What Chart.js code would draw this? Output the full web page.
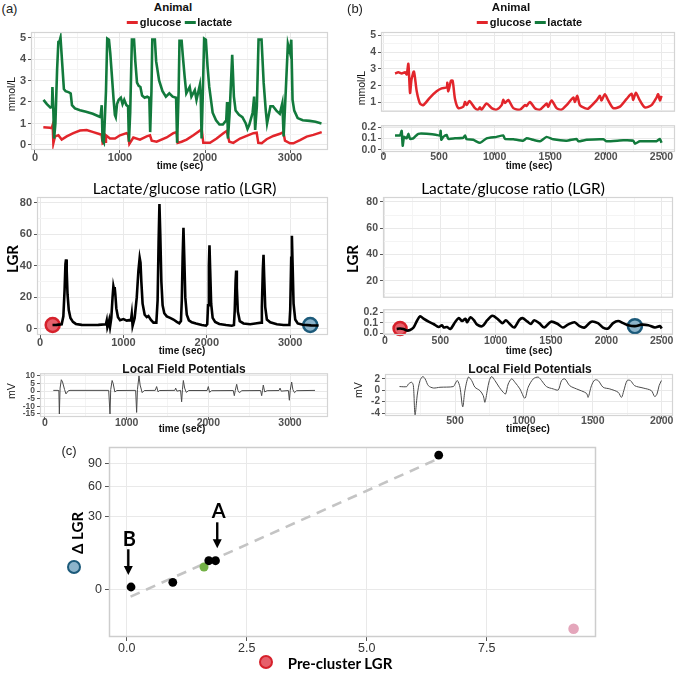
<!DOCTYPE html>
<html>
<head>
<meta charset="utf-8">
<script src="https://cdn.jsdelivr.net/npm/chart.js"></script>
<style>
  html, body { margin: 0; padding: 0; background: #fff; }
  #page { position: relative; width: 679px; height: 673px; overflow: hidden; font-family: 'Liberation Sans', Arial, sans-serif; color: #111; }
  .t { position: absolute; white-space: nowrap; transform: translate(-50%, -50%); line-height: 1; }
  canvas { position: absolute; }
</style>
</head>
<body>
<div id="page"></div>
<script>
// ---- data ----
// panel (a): time (sec), mmol/L
const glucoseA = [[98,0.82],[176,0.8],[196,0.78],[208,0.93],[216,0.08],[235,0.4],[275,0.45],[314,0.25],[373,0.4],[451,0.55],[529,0.67],[608,0.7],[686,0.6],[765,0.5],[784,0.47],[796,0.08],[824,0.15],[835,0.45],[882,0.3],[941,0.3],[1000,0.45],[1078,0.55],[1095,0.5],[1110,0.05],[1157,0.35],[1235,0.25],[1314,0.4],[1353,0.45],[1373,0.2],[1431,0.15],[1549,0.35],[1627,0.55],[1667,0.6],[1678,0.1],[1725,0.15],[1784,0.25],[1863,0.45],[1941,0.67],[1961,0.75],[1980,0.1],[2059,0.1],[2137,0.3],[2216,0.55],[2255,0.65],[2286,0.15],[2333,0.1],[2412,0.3],[2490,0.42],[2569,0.55],[2608,0.57],[2627,0.1],[2667,0.08],[2725,0.27],[2804,0.42],[2882,0.52],[2922,0.6],[2941,0.2],[3000,0.08],[3039,0.08],[3118,0.23],[3196,0.39],[3275,0.47],[3373,0.6]];
const lactateA = [[100,2.1],[140,1.9],[180,1.75],[200,1.78],[205,2.7],[215,1.7],[225,0.3],[240,1.0],[260,3.5],[275,4.8],[290,4.85],[300,5.0],[320,3.8],[340,2.6],[360,2.5],[400,2.45],[420,2.4],[435,1.85],[470,1.7],[530,1.62],[600,1.55],[680,1.45],[740,1.35],[770,1.3],[785,1.85],[795,0.2],[810,0.1],[835,2.5],[850,4.95],[870,4.9],[885,4.3],[905,3.2],[925,2.1],[940,1.4],[950,1.3],[965,1.9],[985,2.1],[1010,2.2],[1030,1.9],[1050,2.1],[1075,1.85],[1095,1.8],[1105,0.15],[1120,1.5],[1140,4.9],[1165,4.9],[1180,3.9],[1200,2.9],[1220,2.75],[1240,2.7],[1260,2.3],[1290,2.2],[1320,2.25],[1345,2.2],[1355,0.6],[1370,2.5],[1380,4.9],[1410,4.9],[1425,3.9],[1460,3.0],[1500,2.5],[1540,2.25],[1580,2.4],[1620,2.25],[1660,2.2],[1672,0.1],[1690,2.5],[1700,4.85],[1725,4.85],[1740,4.1],[1760,3.2],[1780,2.4],[1820,2.7],[1840,2.25],[1880,2.55],[1900,2.1],[1940,2.8],[1950,2.2],[1960,0.3],[1975,2.5],[1990,4.95],[2010,4.9],[2030,3.65],[2050,2.7],[2090,1.5],[2130,1.15],[2170,0.95],[2210,0.95],[2250,1.15],[2260,2.0],[2270,0.3],[2290,1.5],[2320,4.2],[2340,2.25],[2360,1.6],[2400,1.4],[2440,1.3],[2480,1.0],[2500,0.75],[2520,0.93],[2560,1.5],[2578,2.25],[2590,0.7],[2610,1.8],[2630,4.9],[2665,4.9],[2690,2.9],[2715,1.6],[2730,1.0],[2750,1.4],[2770,1.8],[2800,1.8],[2840,1.6],[2880,1.45],[2910,1.95],[2925,0.4],[2950,2.5],[2975,4.7],[3000,4.3],[3015,4.9],[3030,2.1],[3050,1.6],[3090,1.25],[3150,1.15],[3230,1.12],[3300,1.08],[3370,1.0]];
const lgrA = [[150,2.5],[200,2.6],[260,3],[280,8],[295,25],[305,41],[312,44],[320,37],[330,22],[345,12],[365,7],[395,4.5],[430,3.2],[500,2.6],[600,2.5],[700,2.6],[790,3],[800,5.3],[808,1],[820,3],[830,5.5],[840,1.5],[855,7],[870,20],[880,27],[888,25],[895,26.5],[903,22],[915,13],[935,7.5],[960,5.6],[1000,6.3],[1040,5.3],[1070,5.6],[1090,5.5],[1100,9.5],[1110,2],[1135,7],[1160,20],[1180,37],[1195,45],[1205,42],[1215,30],[1230,16],[1255,9],[1280,7.5],[1300,8.2],[1330,5.7],[1360,4],[1395,4],[1410,18],[1422,55],[1432,79],[1442,60],[1455,30],[1470,15],[1490,10],[1520,8],[1560,7],[1600,6],[1640,4.5],[1670,3.6],[1690,5],[1700,18],[1710,45],[1720,64],[1730,45],[1742,20],[1760,9],[1785,5.5],[1820,4.2],[1870,3.4],[1940,2.5],[1990,2.1],[2005,3],[2015,15],[2025,40],[2032,53],[2040,38],[2052,16],[2070,7],[2100,4.5],[2150,3.2],[2230,2.5],[2300,2.1],[2325,2.5],[2335,12],[2345,30],[2352,37],[2360,26],[2372,11],[2395,5],[2440,3.5],[2520,3],[2600,3.6],[2650,4],[2660,14],[2672,38],[2680,47],[2688,33],[2700,14],[2720,6],[2760,4.2],[2840,3],[2920,2.5],[2990,2.5],[3000,12],[3012,45],[3020,59],[3028,42],[3040,16],[3060,6],[3090,3.5],[3150,2.7],[3250,2.3],[3340,2.2]];
const lfpA = [[102,0.5],[160,0.5],[170,0.3],[176,-15],[185,2],[200,7.5],[215,6],[240,1],[257,-1.8],[285,0.2],[306,0.5],[780,0.5],[796,-15],[805,1],[822,7],[835,5],[855,-0.5],[880,0.4],[1110,0.5],[1122,-14],[1132,1],[1151,10],[1165,4],[1190,-1],[1215,0.4],[1350,0.5],[1367,3],[1385,-0.5],[1400,0.4],[1590,0.5],[1600,2],[1615,0],[1660,0.5],[1673,-7],[1683,1],[1694,7],[1710,2],[1730,-0.8],[1760,0.4],[1985,0.4],[2000,3],[2015,-0.8],[2040,0.3],[2305,0.4],[2318,-3],[2330,0.5],[2347,4.5],[2362,0.5],[2380,-1],[2410,0.3],[2640,0.4],[2653,-3],[2663,0.5],[2673,4],[2690,-0.5],[2720,0.3],[2865,0.4],[2878,2],[2892,0],[2980,0.4],[2992,-6],[3002,0.5],[3020,6],[3035,1],[3055,-1],[3080,0.3],[3306,0.5]];
const startMarkA = [[152, 2.5]];
const endMarkA = [[3240, 2.5]];

// panel (b)
const glucoseB = [[105,2.73],[135,2.8],[165,2.73],[195,2.8],[210,2.67],[225,3.3],[240,1.58],[254,2.4],[275,2.85],[300,1.67],[329,0.95],[359,0.85],[419,1.3],[479,1.67],[524,1.85],[569,1.9],[575,2.18],[584,1.67],[608,2.3],[623,2.3],[644,1.22],[674,0.67],[719,0.76],[734,1.04],[749,0.85],[772,1.09],[793,0.95],[823,0.67],[853,0.58],[868,0.73],[883,0.58],[928,0.95],[973,0.67],[1018,0.58],[1063,0.85],[1078,1.16],[1093,0.98],[1123,1.16],[1168,0.67],[1228,0.58],[1273,0.85],[1287,0.8],[1317,1.04],[1362,0.67],[1407,0.58],[1452,0.85],[1467,0.95],[1482,0.76],[1512,1.13],[1557,0.67],[1602,0.58],[1647,0.85],[1707,1.3],[1722,1.04],[1743,1.4],[1766,0.85],[1811,0.67],[1841,0.64],[1916,1.13],[1946,1.4],[1961,1.13],[1991,1.5],[2021,1.13],[2066,0.67],[2126,0.76],[2186,1.22],[2231,1.53],[2246,1.16],[2269,1.58],[2305,1.13],[2350,0.71],[2410,0.85],[2455,1.3],[2470,1.5],[2485,1.13],[2500,1.4]];
const lactateB = [[105,0.126],[150,0.126],[165,0.166],[174,0.034],[186,0.113],[210,0.1],[225,0.14],[240,0.095],[269,0.1],[314,0.14],[389,0.14],[479,0.13],[509,0.126],[515,0.166],[521,0.087],[539,0.113],[569,0.13],[584,0.095],[644,0.1],[719,0.105],[734,0.126],[749,0.092],[808,0.087],[868,0.06],[928,0.1],[1018,0.113],[1078,0.126],[1093,0.095],[1168,0.092],[1257,0.079],[1287,0.1],[1347,0.087],[1407,0.074],[1467,0.113],[1527,0.092],[1647,0.079],[1737,0.095],[1752,0.074],[1826,0.087],[1976,0.092],[2006,0.074],[2156,0.082],[2246,0.079],[2261,0.053],[2305,0.074],[2455,0.074],[2485,0.095],[2500,0.06]];
const lgrB = [[106,0.042],[136,0.047],[167,0.042],[197,0.028],[227,0.033],[258,0.056],[288,0.117],[318,0.161],[348,0.139],[394,0.111],[439,0.089],[485,0.061],[515,0.078],[530,0.056],[561,0.061],[591,0.042],[636,0.111],[667,0.144],[697,0.117],[727,0.139],[742,0.106],[773,0.153],[803,0.125],[833,0.083],[879,0.069],[924,0.125],[970,0.167],[1015,0.139],[1061,0.097],[1091,0.125],[1121,0.097],[1167,0.056],[1212,0.125],[1242,0.144],[1288,0.111],[1318,0.089],[1348,0.125],[1394,0.097],[1439,0.056],[1500,0.111],[1561,0.089],[1606,0.056],[1652,0.083],[1712,0.106],[1758,0.069],[1803,0.056],[1864,0.111],[1924,0.097],[1970,0.056],[2015,0.047],[2061,0.097],[2106,0.117],[2152,0.097],[2197,0.078],[2258,0.069],[2318,0.083],[2379,0.078],[2439,0.056],[2485,0.069],[2500,0.047]];
const lfpB = [[97,0.65],[150,0.65],[162,1.1],[186,1.4],[198,0.8],[210,-4.3],[227,-0.65],[246,1.7],[266,2.4],[283,2.0],[307,0.8],[343,0.4],[391,0.53],[488,0.65],[500,1.1],[517,1.7],[536,0.53],[556,-2.9],[572,-0.06],[597,2.3],[621,1.7],[645,0.53],[681,-0.06],[705,-0.94],[717,-2.1],[734,-0.06],[749,1.7],[766,2.4],[790,1.7],[821,0.53],[850,-0.35],[867,-0.65],[886,1.1],[911,2.0],[935,1.4],[971,0.24],[1007,-1.4],[1031,0.53],[1068,2.0],[1104,2.3],[1128,1.7],[1164,0.65],[1213,0.24],[1249,0.06],[1273,1.7],[1297,2.0],[1333,0.8],[1382,0.24],[1454,-0.53],[1466,-1.24],[1490,0.8],[1514,1.8],[1539,1.7],[1575,0.53],[1623,0.24],[1684,-0.35],[1708,-1.24],[1725,-0.06],[1749,1.7],[1773,1.7],[1804,0.8],[1865,0.4],[1925,-0.06],[1949,-1.1],[1966,-0.65],[1981,0.8],[1998,1.7]];
const startMarkB = [[136, 0.047]];
const endMarkB = [[2258, 0.069]];

// panel (c): pre-cluster LGR vs delta LGR
const clusterBlack = [[0.09,0.05],[0.96,0.33],[1.71,4.8],[1.85,4.8],[6.5,102]];
const clusterGreen = [[1.61,2.97]];
const clusterPink = [[9.31,-8.4]];
const fitLine = [[0.08,-0.25],[6.5,97]];
const arrowX = [0.033, 1.886];
const arrowFrom = [9.3, 25.7];
const arrowTo = [1.26, 9.76];
const arrowText = ['B', 'A'];
const arrowTextX = [0.054, 1.915];
const arrowTextY = [14.4, 34.4];

// ticks
const secTicksA = [0, 1000, 2000, 3000];
const secTicksB = [0, 500, 1000, 1500, 2000, 2500];
const secTicksLfpB = [500, 1000, 1500, 2000];
const mmolTicks = [0, 1, 2, 3, 4, 5];
const mmolTicksB = [1, 2, 3, 4, 5];
const smallTicks = [0, 0.1, 0.2];
const lgrTicks = [0, 20, 40, 60, 80];
const lgrTicksB = [20, 40, 60, 80];
const mvTicksA = [-15, -10, -5, 0, 5, 10];
const mvTicksB = [-4, -2, 0, 2];
const preTicks = [0, 2.5, 5, 7.5];
const deltaTicks = [0, 30, 60, 90];

// ---- drawing ----
const page = document.getElementById('page');
const RED = '#e2252b', GREEN = '#127a3c', LFPC = '#4a4a4a';
Chart.defaults.font.family = "'Liberation Sans', Arial, sans-serif";
Chart.defaults.color = '#4d4d4d';

// signed square root axis, used by panel (c)
function ssq(v) { return Math.sign(v) * Math.sqrt(Math.abs(v)); }
class SqrtScale extends Chart.LinearScale {
  configure() {
    super.configure();
    this._s0 = ssq(this.min);
    this._s1 = ssq(this.max);
  }
  getPixelForValue(v) {
    if (v === null || v === undefined) return NaN;
    return this.getPixelForDecimal((ssq(v) - this._s0) / (this._s1 - this._s0));
  }
  getValueForPixel(p) {
    const s = this._s0 + this.getDecimalForPixel(p) * (this._s1 - this._s0);
    return Math.sign(s) * s * s;
  }
}
SqrtScale.id = 'sqrt';
SqrtScale.defaults = Chart.LinearScale.defaults;
Chart.register(SqrtScale);

const frame = {
  id: 'frame',
  afterDatasetsDraw(c, args, o) {
    const a = c.chartArea, ctx = c.ctx;
    ctx.save();
    ctx.strokeStyle = o.color || '#d4d4d4';
    ctx.lineWidth = o.width || 1.2;
    ctx.strokeRect(a.left + 0.5, a.top + 0.5, a.width - 1, a.height - 1);
    ctx.restore();
  }
};

function minorOf(major, min, max) {
  const out = [];
  for (let i = 0; i < major.length - 1; i++) out.push((major[i] + major[i + 1]) / 2);
  const st = major[1] - major[0];
  if (major[0] - st / 2 >= min) out.push(major[0] - st / 2);
  if (major[major.length - 1] + st / 2 <= max) out.push(major[major.length - 1] + st / 2);
  return out;
}

function axis(min, max, major, o = {}) {
  const all = major.concat(o.noMinor ? [] : minorOf(major, min, max));
  const isMajor = v => major.some(m => Math.abs(m - v) < 1e-9);
  return {
    type: o.type || 'linear', min, max,
    afterBuildTicks: s => { s.ticks = all.map(v => ({ value: v })); },
    grid: {
      color: c => (c.tick && isMajor(c.tick.value)) ? '#e9e9e9' : '#f4f4f4',
      lineWidth: 1,
      drawTicks: !o.hideTicks,
      tickLength: o.tickLen || 3,
      tickColor: c => (c.tick && isMajor(c.tick.value)) ? '#555' : 'rgba(0,0,0,0)'
    },
    border: { display: false },
    ticks: {
      display: !o.hideLabels,
      autoSkip: false, maxRotation: 0, minRotation: 0,
      padding: o.pad === undefined ? 2 : o.pad,
      color: o.color || '#505050',
      font: { size: o.size || 11, lineHeight: 1, weight: o.weight || 'bold' },
      callback: v => isMajor(v) ? (o.fmt ? o.fmt(v) : String(v)) : ''
    }
  };
}

function pts(pairs) { return pairs.map(p => ({ x: p[0], y: p[1] })); }
function line(pairs, color, width, tension) {
  return { data: pts(pairs), showLine: true, borderColor: color, borderWidth: width, pointRadius: 0, tension: tension || 0, fill: false };
}
function dots(pairs, fill, stroke, r, bw) {
  return { data: pts(pairs), showLine: false, pointRadius: r, pointHoverRadius: r, backgroundColor: fill, borderColor: stroke, borderWidth: bw || 0, clip: false };
}

// box = plot area on the page, pad = [left, top, right, bottom] space for axes
function makeChart(box, pad, datasets, xs, ys, extra) {
  const w = box.r - box.l + pad[0] + pad[2];
  const h = box.b - box.t + pad[1] + pad[3];
  const cv = document.createElement('canvas');
  cv.width = w; cv.height = h;
  cv.style.left = (box.l - pad[0]) + 'px';
  cv.style.top = (box.t - pad[1]) + 'px';
  cv.style.width = w + 'px'; cv.style.height = h + 'px';
  page.appendChild(cv);
  xs.position = 'bottom'; ys.position = 'left';
  xs.afterFit = s => { s.height = pad[3]; };
  ys.afterFit = s => { s.width = pad[0]; };
  return new Chart(cv, {
    type: 'scatter',
    data: { datasets },
    options: {
      responsive: false, animation: false, devicePixelRatio: 1, events: [],
      layout: { autoPadding: false, padding: { left: 0, top: pad[1], right: pad[2], bottom: 0 } },
      plugins: { legend: { display: false }, tooltip: { enabled: false }, frame: (extra && extra.frame) || {} },
      scales: { x: xs, y: ys }
    },
    plugins: [frame].concat((extra && extra.plugins) || [])
  });
}

function txt(s, x, y, css, rot) {
  const d = document.createElement('div');
  d.className = 't';
  d.textContent = s;
  d.style.cssText = `left:${x}px;top:${y}px;${css || ''}`;
  if (rot) d.style.transform = 'translate(-50%,-50%) rotate(-90deg)';
  page.appendChild(d);
  return d;
}
function legend(cx, cy) {
  const d = document.createElement('div');
  d.className = 't';
  d.style.cssText = `left:${cx}px;top:${cy}px;display:flex;align-items:center;font:bold 11px 'Liberation Sans',Arial,sans-serif;`;
  [[RED, 'glucose'], [GREEN, 'lactate']].forEach(([c, s]) => {
    const sw = document.createElement('span');
    sw.style.cssText = `display:inline-block;width:11px;height:3px;background:${c};margin-right:2px;`;
    const tx = document.createElement('span');
    tx.textContent = s;
    tx.style.marginRight = '3px';
    d.appendChild(sw); d.appendChild(tx);
  });
  page.appendChild(d);
}
function circle(cx, cy, d, fill, stroke) {
  const e = document.createElement('div');
  e.style.cssText = `position:absolute;left:${cx - d / 2}px;top:${cy - d / 2}px;width:${d - 5}px;height:${d - 5}px;border-radius:50%;background:${fill};border:2.5px solid ${stroke};`;
  page.appendChild(e);
}

const f1 = v => v.toFixed(1);
const RFILL = '#e6606b', RSTROKE = '#d6212b', BFILL = '#8cb4cb', BSTROKE = '#1c5a7a';

// (a) glucose / lactate
makeChart({ l: 31, t: 32, r: 328, b: 150 }, [31, 8, 12, 14],
  [line(lactateA, GREEN, 2.6), line(glucoseA, RED, 2.5)],
  axis(-47, 3447, secTicksA, { pad: -1 }),
  axis(-0.233, 5.256, mmolTicks));
// (a) LGR
makeChart({ l: 37, t: 197, r: 328, b: 335 }, [37, 8, 12, 14],
  [line(lgrA, '#000', 2.6), dots(startMarkA, RFILL, RSTROKE, 7, 2.5), dots(endMarkA, BFILL, BSTROKE, 7, 2.5)],
  axis(-36, 3453, secTicksA, { pad: -1 }),
  axis(-3.8, 83.5, lgrTicks));
// (a) LFP
makeChart({ l: 40, t: 373, r: 328, b: 417 }, [40, 6, 12, 12],
  [line(lfpA, LFPC, 1)],
  axis(-61, 3465, secTicksA, { pad: -2, size: 10.5 }),
  axis(-17, 11.76, mvTicksA, { size: 8.5, noMinor: true }));

// (b) glucose (upper facet) and lactate (lower facet)
makeChart({ l: 381, t: 32, r: 675, b: 119 }, [30, 8, 4, 0],
  [line(glucoseB, RED, 2.5, 0.25)],
  axis(-21, 2621, secTicksB, { hideLabels: true, hideTicks: true }),
  axis(0.455, 5.2, mmolTicksB, { size: 10.5 }));
makeChart({ l: 381, t: 122, r: 675, b: 152 }, [30, 4, 4, 14],
  [line(lactateB, GREEN, 2.5, 0.15)],
  axis(-21, 2621, secTicksB, { pad: -3, size: 10.5 }),
  axis(-0.021, 0.216, smallTicks, { fmt: f1, noMinor: true, size: 10.5 }));
// (b) LGR
makeChart({ l: 383, t: 197, r: 673, b: 305 }, [30, 8, 6, 0],
  [],
  axis(-18, 2602, secTicksB, { hideLabels: true, hideTicks: true }),
  axis(7, 83.75, lgrTicksB, { size: 10.5 }));
makeChart({ l: 383, t: 306, r: 673, b: 335 }, [30, 4, 6, 14],
  [line(lgrB, '#000', 2.6, 0.3), dots(startMarkB, RFILL, RSTROKE, 6.5, 2.5), dots(endMarkB, BFILL, BSTROKE, 7, 2.5)],
  axis(-18, 2602, secTicksB, { pad: -2, size: 10.5 }),
  axis(-0.014, 0.2275, smallTicks, { fmt: f1, noMinor: true, size: 10.5 }));
// (b) LFP
makeChart({ l: 385, t: 373, r: 673, b: 416 }, [30, 6, 6, 12],
  [line(lfpB, LFPC, 1, 0.3)],
  axis(-8, 2082, secTicksLfpB, { pad: -3, size: 10.5 }),
  axis(-4.5, 2.85, mvTicksB, { size: 10, noMinor: true }));

// (c) scatter
const arrows = {
  id: 'arrows',
  afterDatasetsDraw(c) {
    const xs = c.scales.x, ys = c.scales.y, ctx = c.ctx;
    ctx.save();
    ctx.strokeStyle = '#000'; ctx.fillStyle = '#000'; ctx.lineWidth = 2.4;
    arrowX.forEach((ax, i) => {
      const px = xs.getPixelForValue(ax);
      const y0 = ys.getPixelForValue(arrowFrom[i]);
      const y1 = ys.getPixelForValue(arrowTo[i]);
      ctx.beginPath(); ctx.moveTo(px, y0); ctx.lineTo(px, y1 - 6); ctx.stroke();
      ctx.beginPath(); ctx.moveTo(px - 4.5, y1 - 9); ctx.lineTo(px + 4.5, y1 - 9); ctx.lineTo(px, y1); ctx.closePath(); ctx.fill();
      ctx.font = "bold 20px Lato, 'Liberation Sans', sans-serif";
      ctx.textAlign = 'center'; ctx.textBaseline = 'middle';
      ctx.fillText(arrowText[i], xs.getPixelForValue(arrowTextX[i]), ys.getPixelForValue(arrowTextY[i]));
    });
    ctx.restore();
  }
};
const dash = line(fitLine, '#c4c4c4', 2.6);
dash.borderDash = [10, 7];
makeChart({ l: 109, t: 447, r: 596, b: 637 }, [40, 10, 20, 20],
  [dots(clusterBlack, '#000', '#000', 4.4), dots(clusterGreen, '#73b146', '#73b146', 4.5), dots(clusterPink, '#e4a6bb', '#e4a6bb', 5.3), dash],
  axis(-0.369, 9.777, preTicks, { fmt: f1, size: 12.5, pad: 1, tickLen: 4, noMinor: true, weight: 'normal', color: '#333' }),
  axis(-12.4, 114.7, deltaTicks, { type: 'sqrt', size: 12.5, pad: 3, tickLen: 4, noMinor: true, weight: 'normal', color: '#333' }),
  { plugins: [arrows], frame: { color: '#cdcdcd', width: 1.5 } });

// ---- text ----
const BOLD = "font:bold 10px 'Liberation Sans',Arial,sans-serif;";
const TITLE = "font:bold 12px 'Liberation Sans',Arial,sans-serif;";
const LGRT = "font:15.5px Lato,'Liberation Sans',sans-serif;color:#000;";
const LGRY = "font:bold 15px Lato,'Liberation Sans',sans-serif;color:#000;";
const NARROW = "font:10.5px 'Liberation Sans Narrow','Liberation Sans',Arial,sans-serif;";
const PANEL = "font:13px 'Liberation Sans',Arial,sans-serif;color:#222;";

txt('(a)', 9.5, 8, PANEL);
txt('Animal', 173, 7, "font:bold 11.5px 'Liberation Sans',Arial,sans-serif;");
legend(181, 22);
txt('mmol/L', 11, 94, NARROW, true);
txt('time (sec)', 180, 165, BOLD);
txt('Lactate/glucose ratio (LGR)', 184.5, 188, LGRT);
txt('LGR', 11.5, 259, LGRY, true);
txt('time (sec)', 182, 349.5, BOLD);
txt('Local Field Potentials', 184, 369, TITLE);
txt('mV', 11, 391, NARROW, true);
txt('time (sec)', 182, 428, BOLD);

txt('(b)', 355, 8, PANEL);
txt('Animal', 511, 7, "font:bold 11.5px 'Liberation Sans',Arial,sans-serif;");
legend(531, 22);
txt('mmol/L', 361, 88, NARROW, true);
txt('time (sec)', 529, 165, BOLD);
txt('Lactate/glucose ratio (LGR)', 513, 188, LGRT);
txt('LGR', 352, 259, LGRY, true);
txt('time (sec)', 529, 349.5, BOLD);
txt('Local Field Potentials', 530, 369, TITLE);
txt('mV', 358, 390, NARROW, true);
txt('time(sec)', 528, 428, BOLD);

txt('(c)', 69, 450, PANEL);
txt('Δ LGR', 77, 533, LGRY, true);
circle(74, 567, 15, BFILL, BSTROKE);
txt('Pre-cluster LGR', 340, 663, LGRY);
circle(266, 662, 15, RFILL, RSTROKE);
</script>
</body>
</html>
